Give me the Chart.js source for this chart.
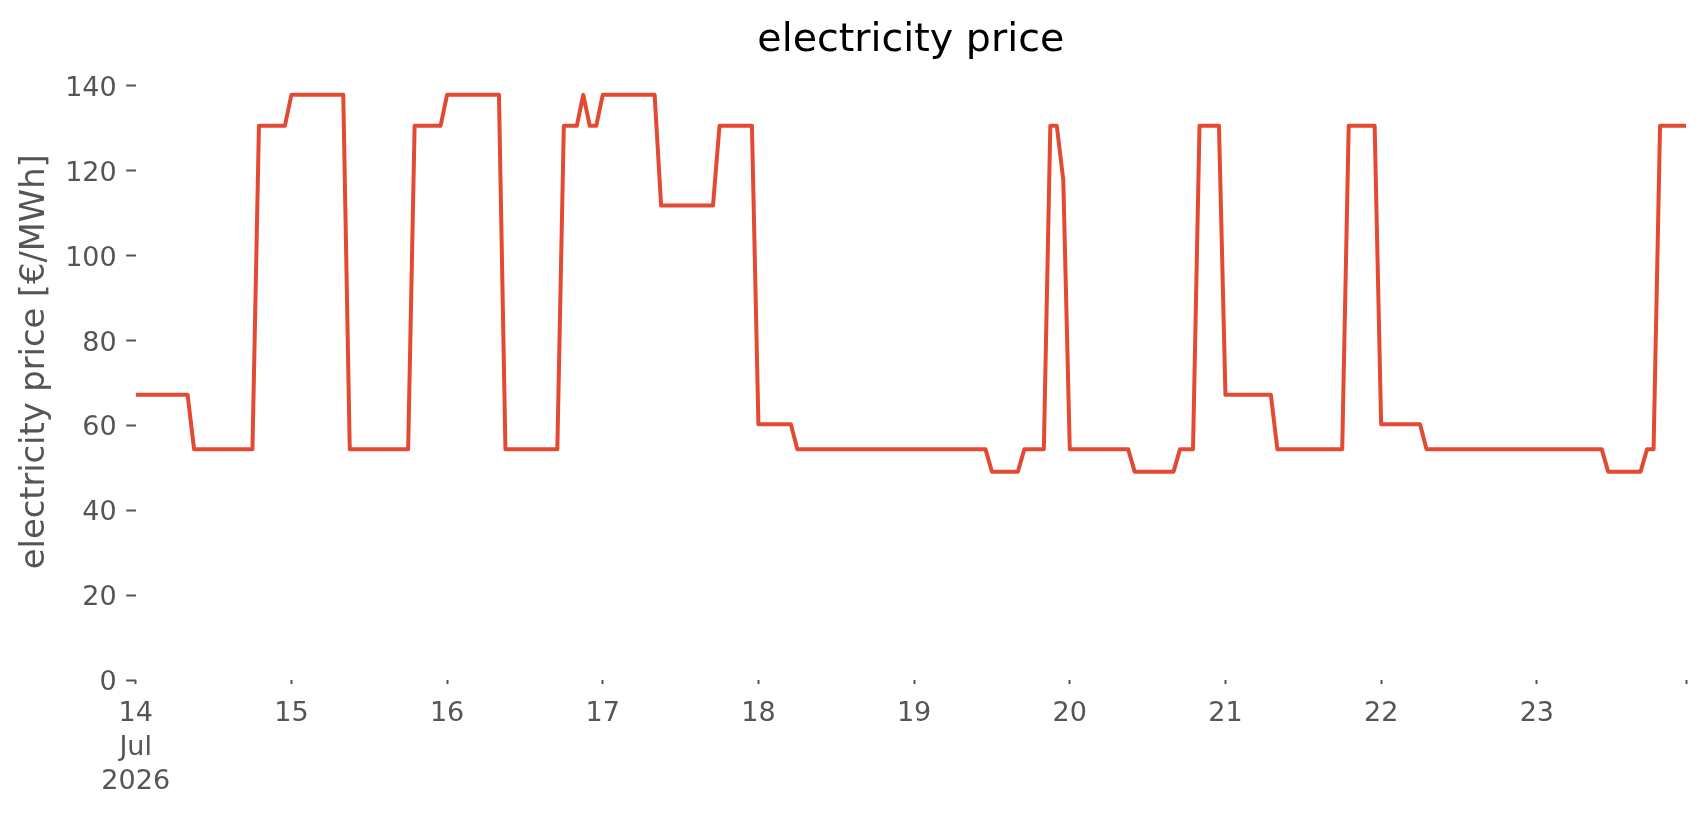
<!DOCTYPE html>
<html>
<head>
<meta charset="utf-8">
<title>electricity price</title>
<script src="https://cdn.jsdelivr.net/npm/chart.js@4.4.1/dist/chart.umd.min.js"></script>
<style>
  html, body { margin: 0; padding: 0; background: #ffffff; }
  canvas { display: block; }
</style>
</head>
<body>
<canvas id="grafico" width="1706" height="815"></canvas>
<script>
// Precio horario, 14 jul 00:00 -> 23 jul 23:00 (una fila por día, 24 valores)
const precio = [
  67.2, 67.2, 67.2, 67.2, 67.2, 67.2, 67.2, 67.2, 67.2, 54.4, 54.4, 54.4, 54.4, 54.4, 54.4, 54.4, 54.4, 54.4, 54.4, 130.6, 130.6, 130.6, 130.6, 130.6,
  137.9, 137.9, 137.9, 137.9, 137.9, 137.9, 137.9, 137.9, 137.9, 54.4, 54.4, 54.4, 54.4, 54.4, 54.4, 54.4, 54.4, 54.4, 54.4, 130.6, 130.6, 130.6, 130.6, 130.6,
  137.9, 137.9, 137.9, 137.9, 137.9, 137.9, 137.9, 137.9, 137.9, 54.4, 54.4, 54.4, 54.4, 54.4, 54.4, 54.4, 54.4, 54.4, 130.6, 130.6, 130.6, 137.9, 130.6, 130.6,
  137.9, 137.9, 137.9, 137.9, 137.9, 137.9, 137.9, 137.9, 137.9, 111.8, 111.8, 111.8, 111.8, 111.8, 111.8, 111.8, 111.8, 111.8, 130.6, 130.6, 130.6, 130.6, 130.6, 130.6,
  60.3, 60.3, 60.3, 60.3, 60.3, 60.3, 54.4, 54.4, 54.4, 54.4, 54.4, 54.4, 54.4, 54.4, 54.4, 54.4, 54.4, 54.4, 54.4, 54.4, 54.4, 54.4, 54.4, 54.4,
  54.4, 54.4, 54.4, 54.4, 54.4, 54.4, 54.4, 54.4, 54.4, 54.4, 54.4, 54.4, 49.1, 49.1, 49.1, 49.1, 49.1, 54.4, 54.4, 54.4, 54.4, 130.6, 130.6, 117.8,
  54.4, 54.4, 54.4, 54.4, 54.4, 54.4, 54.4, 54.4, 54.4, 54.4, 49.1, 49.1, 49.1, 49.1, 49.1, 49.1, 49.1, 54.4, 54.4, 54.4, 130.6, 130.6, 130.6, 130.6,
  67.2, 67.2, 67.2, 67.2, 67.2, 67.2, 67.2, 67.2, 54.4, 54.4, 54.4, 54.4, 54.4, 54.4, 54.4, 54.4, 54.4, 54.4, 54.4, 130.6, 130.6, 130.6, 130.6, 130.6,
  60.3, 60.3, 60.3, 60.3, 60.3, 60.3, 60.3, 54.4, 54.4, 54.4, 54.4, 54.4, 54.4, 54.4, 54.4, 54.4, 54.4, 54.4, 54.4, 54.4, 54.4, 54.4, 54.4, 54.4,
  54.4, 54.4, 54.4, 54.4, 54.4, 54.4, 54.4, 54.4, 54.4, 54.4, 54.4, 49.1, 49.1, 49.1, 49.1, 49.1, 49.1, 54.4, 54.4, 130.6, 130.6, 130.6, 130.6, 130.6
];

// Marcas del eje X (en días desde el 14 jul) y sus etiquetas
const marcasDias = [0, 1, 2, 3, 4, 5, 6, 7, 8, 9, 239 / 24];
const etiquetasDias = [['14', 'Jul', '2026'], '15', '16', '17', '18', '19', '20', '21', '22', '23', ''];

// Marcas del eje Y
const marcasPrecio = [0, 20, 40, 60, 80, 100, 120, 140];

const fuente = 'DejaVu Sans';
const gris = '#555555';

// Puntos (x = días desde el inicio, una muestra por hora)
const puntos = precio.map((p, i) => ({ x: i / 24, y: p }));

// Centrar el título sobre el área del gráfico y no sobre todo el lienzo
const tituloSobreArea = {
  id: 'tituloSobreArea',
  afterLayout(chart) {
    const t = chart.titleBlock;
    if (!t) return;
    t.left = chart.chartArea.left;
    t.right = chart.chartArea.right;
    t.width = t.right - t.left;
  }
};

const ctx = document.getElementById('grafico').getContext('2d');
const grafico = new Chart(ctx, {
  type: 'line',
  data: {
    datasets: [{
      label: 'electricity price',
      data: puntos,
      borderColor: '#E24A33',
      borderWidth: 4,
      borderJoinStyle: 'round',
      pointRadius: 0,
      tension: 0,
      fill: false
    }]
  },
  plugins: [tituloSobreArea],
  options: {
    responsive: false,
    animation: false,
    devicePixelRatio: 1,
    events: [],
    layout: { padding: { left: 0, right: 20, top: 0, bottom: 0 } },
    plugins: {
      legend: { display: false },
      tooltip: { enabled: false },
      title: {
        display: true,
        text: 'electricity price',
        color: '#000000',
        font: { family: fuente, size: 39.6, weight: 'normal', lineHeight: 1 },
        padding: { top: 21, bottom: -17.1 }
      }
    },
    scales: {
      x: {
        type: 'linear',
        min: 0,
        max: 239 / 24,
        afterBuildTicks: scale => { scale.ticks = marcasDias.map(v => ({ value: v })); },
        afterFit: scale => { scale.height = 135; },
        grid: { drawOnChartArea: false, drawTicks: true, tickLength: 4, tickWidth: 2, tickColor: gris },
        border: { display: false },
        ticks: {
          autoSkip: false,
          maxRotation: 0,
          minRotation: 0,
          padding: 13.5,
          color: gris,
          font: { family: fuente, size: 27, lineHeight: 1.25 },
          callback: (valor, indice) => etiquetasDias[indice]
        }
      },
      y: {
        min: 0,
        max: 150,
        afterBuildTicks: scale => { scale.ticks = marcasPrecio.map(v => ({ value: v })); },
        afterFit: scale => { scale.width = 135.7; },
        grid: { drawOnChartArea: false, drawTicks: true, tickLength: 9.5, tickWidth: 2, tickColor: gris },
        border: { display: false },
        ticks: {
          padding: 9.5,
          labelOffset: 3,
          color: gris,
          font: { family: fuente, size: 27 }
        },
        title: {
          display: true,
          text: 'electricity price [€/MWh]',
          color: gris,
          font: { family: fuente, size: 33.7, lineHeight: 1.2 },
          padding: { top: 14.8, bottom: 0 }
        }
      }
    }
  }
});
</script>
</body>
</html>
